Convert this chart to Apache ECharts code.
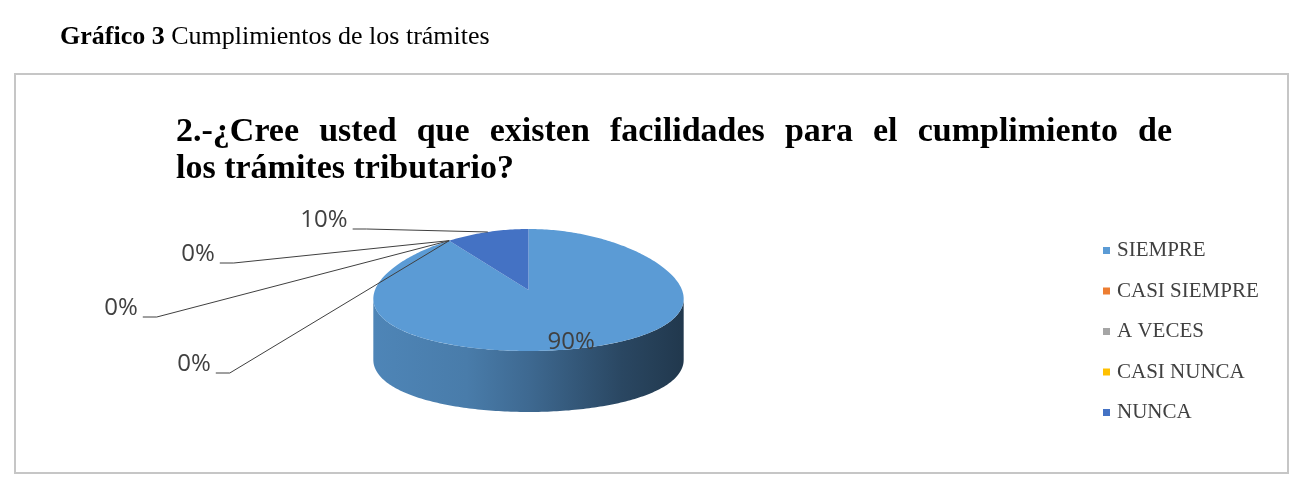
<!DOCTYPE html>
<html><head><meta charset="utf-8">
<script src="https://cdn.jsdelivr.net/npm/echarts@6/dist/echarts.min.js"></script>
<style>html,body{margin:0;padding:0;background:#fff}#c{width:1313px;height:480px}</style>
</head><body><div id="c"></div>
<script>
// ---- data ----
const categories = ['SIEMPRE', 'CASI SIEMPRE', 'A VECES', 'CASI NUNCA', 'NUNCA'];
const values = [90, 0, 0, 0, 10];
const colors = ['#5B9BD5', '#ED7D31', '#A5A5A5', '#FFC000', '#4472C4'];
const captionBold = 'Gráfico 3';
const captionText = 'Cumplimientos de los trámites';
const titleLines = ['2.-¿Cree usted que existen facilidades para el cumplimiento de', 'los trámites tributario?'];

// ---- layout ----
const PIE = { cx: 528.5, cy: 290, rx: 153.5, ry: 61, depth: 61, persp: 0.15 };
// outside label centres relative to pie centre (Excel hand-placed labels)
const labelOffsets = [null, [-330.5, -36], [-407.5, 18], [-334.5, 74], [-204.5, -70]];
const insideFactor = 0.9;
const LABEL_FONT = '24px "Open Sans"';
const TITLE_FONT = 'bold 34px "Liberation Serif"';
const SERIF = '"Liberation Serif", "Times New Roman", serif';

const mctx = document.createElement('canvas').getContext('2d');
function textW(str, font) { mctx.font = font; return mctx.measureText(str).width; }
function shade(hex, f) {
  const n = parseInt(hex.slice(1), 16);
  const r = Math.round(((n >> 16) & 255) * f), g = Math.round(((n >> 8) & 255) * f), b = Math.round((n & 255) * f);
  return 'rgb(' + r + ',' + g + ',' + b + ')';
}
function pt(deg, yOff) {
  const t = deg * Math.PI / 180, s = Math.sin(t), c = Math.cos(t);
  return [PIE.cx + PIE.rx * s * (1 - PIE.persp * c), PIE.cy - PIE.ry * c + yOff];
}
// silhouette extremes (where the side wall starts / ends)
let sideFrom = 90, sideTo = 270, bx = -1e9, sx = 1e9;
for (let d = 0; d <= 360; d += 0.25) {
  const p = pt(d, 0)[0];
  if (p > bx) { bx = p; sideFrom = d; }
  if (p < sx) { sx = p; sideTo = d; }
}
const total = values.reduce((a, b) => a + b, 0);

function arc(from, to, yOff) {
  const out = [];
  if (to >= from) { for (let d = from; d < to; d += 1) out.push(pt(d, yOff)); }
  else { for (let d = from; d > to; d -= 1) out.push(pt(d, yOff)); }
  out.push(pt(to, yOff));
  return out;
}

function renderSlice(params, api) {
  const i = params.seriesIndex;
  const v = api.value(0);
  let before = 0; for (let k = 0; k < i; k++) before += values[k];
  const a0 = before / total * 360, a1 = (before + v) / total * 360;
  const col = colors[i];
  const children = [];
  const s0 = Math.max(a0, sideFrom), s1 = Math.min(a1, sideTo);
  if (s1 > s0) {
    const pts = arc(s0, s1, 0).concat(arc(s1, s0, PIE.depth));
    children.push({ type: 'polygon', shape: { points: pts }, style: {
      fill: { type: 'linear', x: sx, y: 0, x2: bx, y2: 0, global: true,
        colorStops: [
          { offset: 0, color: shade(col, 0.86) }, { offset: 0.3, color: shade(col, 0.8) },
          { offset: 0.5, color: shade(col, 0.68) }, { offset: 0.8, color: shade(col, 0.46) },
          { offset: 1, color: shade(col, 0.36) }] } } });
  }
  if (a1 > a0) {
    const pts = [[PIE.cx, PIE.cy]].concat(arc(a0, a1, 0));
    children.push({ type: 'polygon', shape: { points: pts }, style: { fill: col } });
  }
  const txt = Math.round(v / total * 100) + '%';
  const mid = (a0 + a1) / 2;
  if (!labelOffsets[i]) {
    const t = mid * Math.PI / 180;
    children.push({ type: 'text', style: { text: txt, x: PIE.cx + insideFactor * PIE.rx * Math.sin(t),
      y: PIE.cy - insideFactor * PIE.ry * Math.cos(t), font: LABEL_FONT, fill: '#404040', align: 'center', verticalAlign: 'middle' } });
  } else {
    const lx = PIE.cx + labelOffsets[i][0], ly = PIE.cy + labelOffsets[i][1];
    const w = textW(txt, LABEL_FONT);
    const sx0 = lx + w / 2 + 5, sy0 = ly + 9;
    const end = pt(mid, 0);
    children.push({ type: 'polyline', shape: { points: [[sx0, sy0], [sx0 + 14, sy0], end] }, style: { stroke: '#404040', lineWidth: 1, fill: null } });
    children.push({ type: 'text', style: { text: txt, x: lx, y: ly, font: LABEL_FONT, fill: '#404040', align: 'center', verticalAlign: 'middle' } });
  }
  return { type: 'group', children };
}

// justified first title line
const T_LEFT = 176, T_RIGHT = 1172, T_Y1 = 132, T_Y2 = 169;
const graphics = [{ type: 'rect', shape: { x: 15, y: 74, width: 1273, height: 399 }, style: { fill: null, stroke: '#c6c6c6', lineWidth: 2 }, silent: true }];
const words = titleLines[0].split(' ');
const ww = words.map(w => textW(w, TITLE_FONT));
const gap = (T_RIGHT - T_LEFT - ww.reduce((a, b) => a + b, 0)) / (words.length - 1);
let xx = T_LEFT;
words.forEach((w, k) => {
  graphics.push({ type: 'text', style: { text: w, x: xx, y: T_Y1, font: TITLE_FONT, fill: '#000', align: 'left', verticalAlign: 'middle' } });
  xx += ww[k] + gap;
});
graphics.push({ type: 'text', style: { text: titleLines[1], x: T_LEFT, y: T_Y2, font: TITLE_FONT, fill: '#000', align: 'left', verticalAlign: 'middle' } });

const chart = echarts.init(document.getElementById('c'), null, { renderer: 'canvas' });
chart.setOption({
  animation: false,
  backgroundColor: '#fff',
  title: {
    text: '{b|' + captionBold + '} ' + captionText, left: 60, top: 24, padding: 0,
    textStyle: { fontFamily: SERIF, fontSize: 26, fontWeight: 'normal', color: '#000',
      rich: { b: { fontFamily: SERIF, fontSize: 26, fontWeight: 'bold', color: '#000' } } }
  },
  legend: {
    orient: 'vertical', left: 1103, top: 240, padding: 0, icon: 'rect', itemWidth: 7, itemHeight: 7, itemGap: 19.5,
    selectedMode: false,
    textStyle: { fontFamily: SERIF, fontSize: 21, color: '#404040', lineHeight: 21, padding: [0, 0, 0, 2] },
    data: categories
  },
  graphic: graphics,
  series: categories.map((name, i) => ({
    type: 'custom', name, coordinateSystem: 'none', itemStyle: { color: colors[i] },
    renderItem: renderSlice, data: [[values[i]]], silent: true
  }))
});
</script></body></html>
